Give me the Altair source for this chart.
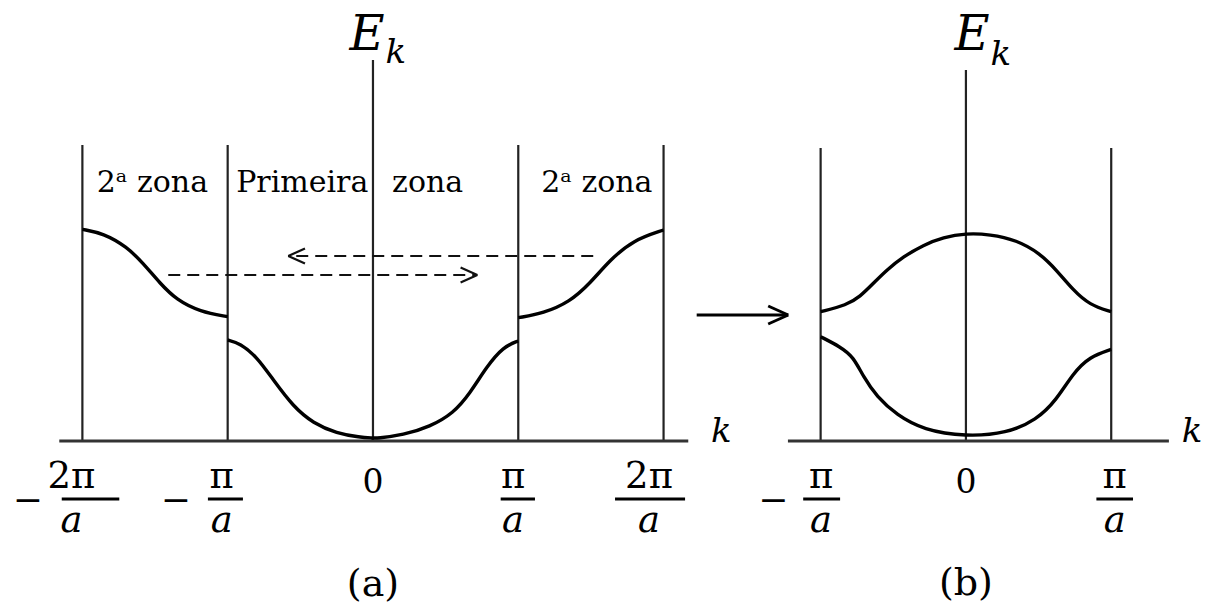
import altair as alt
import pandas as pd

# Horizontal unit: pi/a.  Vertical unit: arbitrary energy, 0 on the k axis.
# Panel (b) sits to the right of panel (a); its origin is shifted by this many pi/a.
PANEL_B_SHIFT = 4.081

# ---- panel (a): extended-zone scheme ----
A_LOW_K = [-1.0, -0.915, -0.80, -0.686, -0.548, -0.411, -0.25, -0.089, 0.0,
           0.025, 0.209, 0.392, 0.553, 0.668, 0.782, 0.897, 1.0]
A_LOW_E = [1.01, 0.977, 0.843, 0.61, 0.343, 0.177, 0.077, 0.037, 0.03,
           0.027, 0.06, 0.143, 0.277, 0.477, 0.743, 0.943, 1.0]
A_UPL_K = [-2.0, -1.856, -1.695, -1.581, -1.466, -1.351, -1.19, -1.0]
A_UPL_E = [2.117, 2.077, 1.943, 1.777, 1.577, 1.41, 1.293, 1.243]
A_UPR_K = [1.0, 1.172, 1.356, 1.494, 1.631, 1.792, 2.0]
A_UPR_E = [1.233, 1.277, 1.393, 1.577, 1.81, 2.01, 2.11]

# ---- panel (b): reduced-zone scheme ----
B_UP_K = [-1.0, -0.82, -0.729, -0.637, -0.545, -0.431, -0.293, -0.156, 0.0,
          0.165, 0.348, 0.509, 0.623, 0.737, 0.852, 1.0]
B_UP_E = [1.293, 1.36, 1.443, 1.577, 1.71, 1.843, 1.96, 2.037, 2.077,
          2.067, 2.01, 1.877, 1.71, 1.51, 1.36, 1.293]
B_LOW_K = [-1.0, -0.866, -0.775, -0.706, -0.614, -0.476, -0.293, 0.0,
           0.28, 0.486, 0.623, 0.737, 0.852, 1.0]
B_LOW_E = [1.043, 0.943, 0.843, 0.643, 0.443, 0.26, 0.11, 0.043,
           0.077, 0.21, 0.41, 0.677, 0.843, 0.917]

# zone boundaries and axes
A_ZONE_K = [-2, -1, 1, 2]
A_ZONE_TOP = 2.96
A_CENTER_TOP = 3.81
A_AXIS = [-2.159, 2.17]
B_ZONE_K = [-1, 1]
B_ZONE_TOP = 2.93
B_CENTER_TOP = 3.71
B_AXIS = [-1.225, 1.397]

# dashed folding arrows in panel (a): (start k, end k, energy)
FOLD_ARROWS = [(1.516, -0.583, 1.85), (-1.409, 0.718, 1.66)]
# arrow from (a) to (b)
LINK_ARROW = (2.228, 2.858, 1.26)

# tick labels: (panel, sign, numerator, centre k, bar from, bar to, minus k)
FRACTIONS = [
    ("a", "−", "2π", -2.075, -2.142, -1.746, -2.375),
    ("a", "−", "π", -1.041, -1.136, -0.895, -1.356),
    ("a", "", "π", 0.964, 0.879, 1.115, None),
    ("a", "", "2π", 1.9, 1.666, 2.148, None),
    ("b", "−", "π", -0.997, -1.120, -0.866, -1.326),
    ("b", "", "π", 1.024, 0.898, 1.150, None),
]
ZONE_LABELS = ["2ᵃ zona", "Primeira", "zona", "2ᵃ zona"]
ZONE_LABEL_K = [-1.518, -0.487, 0.376, 1.541]
ZONE_LABEL_E = 2.49

SERIF = "DejaVu Serif"
XS = alt.Scale(domain=[-2.567, 5.754], nice=False, zero=False)
YS = alt.Scale(domain=[-1.70, 4.41], nice=False, zero=False)


def shift(panel, k):
    return k + (PANEL_B_SHIFT if panel == "b" else 0.0)


# ---- curves ----
curve_rows = []
for name, panel, ks, es in [("a_low", "a", A_LOW_K, A_LOW_E),
                            ("a_upl", "a", A_UPL_K, A_UPL_E),
                            ("a_upr", "a", A_UPR_K, A_UPR_E),
                            ("b_up", "b", B_UP_K, B_UP_E),
                            ("b_low", "b", B_LOW_K, B_LOW_E)]:
    for k, e in zip(ks, es):
        curve_rows.append({"curve": name, "x": shift(panel, k), "E": e})
curves = alt.Chart(pd.DataFrame(curve_rows)).mark_line(
    interpolate="basis", strokeWidth=3.4, color="#000"
).encode(
    x=alt.X("x:Q", scale=XS, axis=None),
    y=alt.Y("E:Q", scale=YS, axis=None),
    detail="curve:N",
)


def segs(rows, **mark):
    df = pd.DataFrame(rows, columns=["x0", "y0", "x1", "y1"])
    return alt.Chart(df).mark_rule(**mark).encode(
        x=alt.X("x0:Q", scale=XS, axis=None),
        y=alt.Y("y0:Q", scale=YS, axis=None),
        x2="x1:Q",
        y2="y1:Q",
    )


# vertical lines
vert_rows = [(k, 0, k, A_ZONE_TOP) for k in A_ZONE_K]
vert_rows.append((0, 0, 0, A_CENTER_TOP))
vert_rows += [(shift("b", k), 0, shift("b", k), B_ZONE_TOP) for k in B_ZONE_K]
vert_rows.append((shift("b", 0), 0, shift("b", 0), B_CENTER_TOP))
verticals = segs(vert_rows, strokeWidth=2.2, color="#222")

axis_rows = [(A_AXIS[0], 0, A_AXIS[1], 0),
             (shift("b", B_AXIS[0]), 0, shift("b", B_AXIS[1]), 0)]
axes = segs(axis_rows, strokeWidth=2.8, color="#333")

# dashed arrows with open heads
dash_rows, head_rows = [], []
HEAD_DK, HEAD_DE = 0.115, 0.075
for k0, k1, e in FOLD_ARROWS:
    dash_rows.append((k0, e, k1, e))
    back = HEAD_DK if k1 < k0 else -HEAD_DK
    head_rows.append((k1, e, k1 + back, e + HEAD_DE))
    head_rows.append((k1, e, k1 + back, e - HEAD_DE))
dashed = segs(dash_rows, strokeWidth=2.2, color="#111", strokeDash=[12, 7])
heads = segs(head_rows, strokeWidth=2.2, color="#111")

lk0, lk1, le = LINK_ARROW
link = segs([(lk0, le, lk1, le),
             (lk1, le, lk1 - 0.138, le + 0.09),
             (lk1, le, lk1 - 0.138, le - 0.09)],
            strokeWidth=3, color="#000")


def texts(rows, size, style="normal", align="center", baseline="alphabetic"):
    df = pd.DataFrame(rows, columns=["x", "E", "t"])
    return alt.Chart(df).mark_text(
        font=SERIF, fontSize=size, fontStyle=style, align=align,
        baseline=baseline, color="#000"
    ).encode(
        x=alt.X("x:Q", scale=XS, axis=None),
        y=alt.Y("E:Q", scale=YS, axis=None),
        text="t:N",
    )


zone_text = texts([(k, ZONE_LABEL_E, t) for k, t in zip(ZONE_LABEL_K, ZONE_LABELS)], 30)

# E_k labels: capital E ends where its subscript k begins
e_big = texts([(0.080, 3.91, "E"), (shift("b", 0.163), 3.91, "E")], 48, "italic", align="right")
e_sub = texts([(0.086, 3.78, "k"), (shift("b", 0.170), 3.76, "k")], 34, "italic", align="left")
k_axis = texts([(2.398, -0.01, "k"), (shift("b", 1.557), -0.01, "k")], 34, "italic")

zeros = texts([(0, -0.52, "0"), (shift("b", 0), -0.52, "0")], 33)

num_rows, den_rows, minus_rows, bar_rows = [], [], [], []
for panel, sign, num, kc, b0, b1, km in FRACTIONS:
    num_rows.append((shift(panel, kc), -0.47, num))
    den_rows.append((shift(panel, kc), -0.91, "a"))
    bar_rows.append((shift(panel, b0), -0.58, shift(panel, b1), -0.58))
    if sign:
        minus_rows.append((shift(panel, km), -0.71, sign))
numerators = texts(num_rows, 37)
denominators = texts(den_rows, 37, "italic")
minuses = texts(minus_rows, 36)
bars = segs(bar_rows, strokeWidth=2.8, color="#000")

captions = texts([(0, -1.44, "(a)"), (shift("b", 0), -1.43, "(b)")], 38, baseline="middle")

chart = alt.layer(
    verticals, axes, dashed, heads, link, curves,
    zone_text, e_big, e_sub, k_axis, zeros,
    numerators, denominators, minuses, bars, captions,
).properties(
    width=1209, height=611, padding=0,
    autosize=alt.AutoSizeParams(type="none"),
    background="white",
).configure_view(strokeWidth=0)

chart.save("out.html", embed_options={"renderer": "svg", "actions": False})
